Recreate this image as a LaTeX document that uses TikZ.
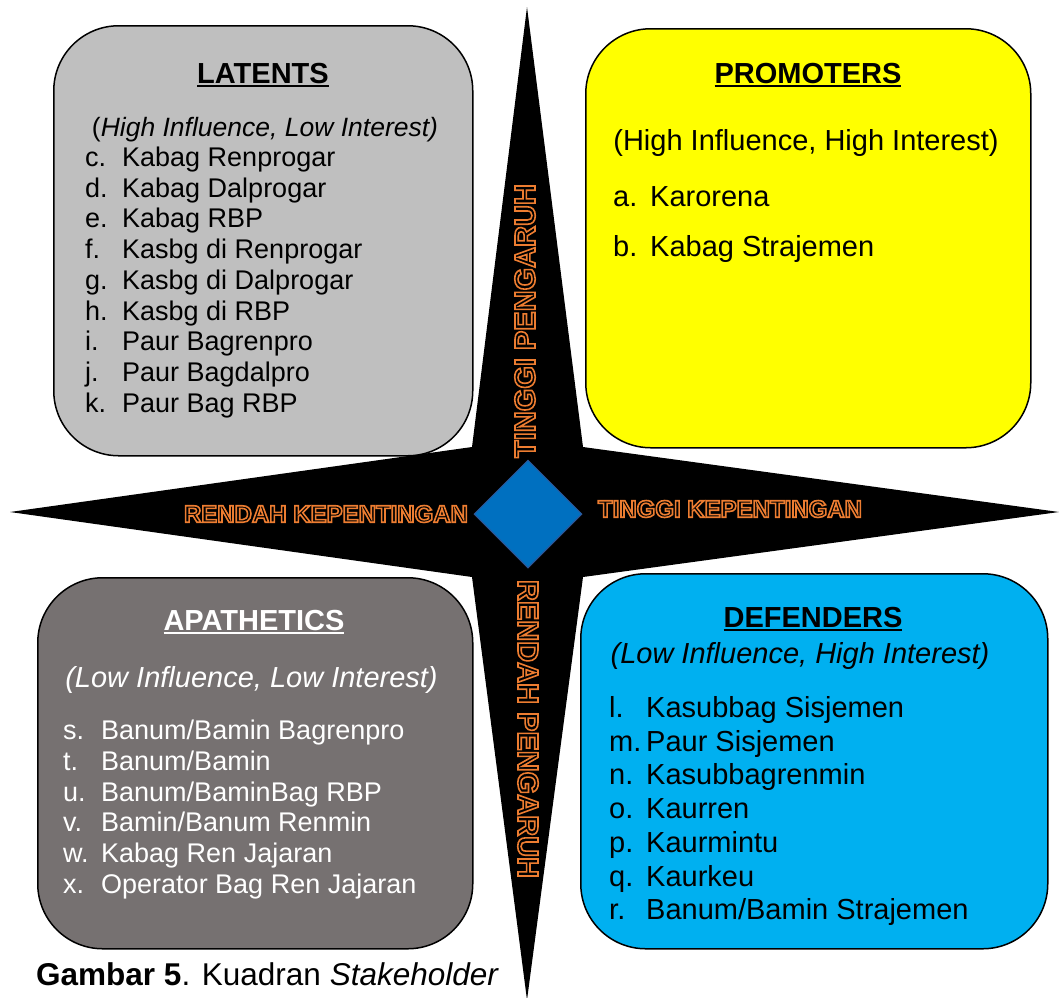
\documentclass[tikz,border=0pt]{standalone}
\usepackage{fontspec}
\setmainfont{Liberation Sans}
\usetikzlibrary{shapes.geometric}

\definecolor{latgray}{HTML}{BFBFBF}
\definecolor{apagray}{HTML}{767171}
\definecolor{proyellow}{HTML}{FFFF00}
\definecolor{defblue}{HTML}{00B0F0}
\definecolor{midblue}{HTML}{0070C0}
\definecolor{midedge}{HTML}{2F5597}

% hollow orange letters: fill black, stroke orange
\newcommand\hollow[1]{\special{pdf:literal direct 2 Tr 1.6 w 0.929 0.490 0.192 RG}#1\special{pdf:literal direct 0 Tr 0 G}}
\newcommand\ttlline[1]{\setbox0=\hbox{#1}\leavevmode\rlap{\copy0}\rule[-3.5pt]{\wd0}{2pt}}

\tikzset{
	quadbox/.style={draw=black, line width=1.5pt, rounded corners=65pt, anchor=north west, inner sep=0pt},
	ttl/.style={anchor=base, font=\fontsize{29}{34}\selectfont\bfseries},
	subttl/.style={anchor=base, font=\fontsize{29}{34}\selectfont},
	itm/.style={anchor=base west, inner sep=0pt, font=\fontsize{27}{30}\selectfont},
	bigitm/.style={anchor=base west, inner sep=0pt, font=\fontsize{29}{34}\selectfont},
	axislbl/.style={font=\fontsize{24}{28}\selectfont\bfseries, inner sep=0pt, text=black}
}

\begin{document}
\begin{tikzpicture}[x=1pt, y=-1pt]
		\useasboundingbox (0,0) rectangle (1059,997);
		% four pointed star behind the quadrants
		\fill[black] (527,7) -- (583,447) -- (1059,512) -- (583,577) -- (527,1000)
			-- (472,577) -- (10,512) -- (472,447) -- cycle;
		
		% the four quadrants
		\node[quadbox, fill=latgray, minimum width=419pt, minimum height=430pt] (lat) at (53,25) {};
		\node[quadbox, fill=proyellow, minimum width=445pt, minimum height=419pt] (pro) at (585,28) {};
		\node[quadbox, fill=apagray, minimum width=435pt, minimum height=371pt] (apa) at (37,577) {};
		\node[quadbox, fill=defblue, minimum width=467pt, minimum height=375pt] (def) at (580,573) {};
		
		\node[diamond, aspect=1, fill=midblue, draw=midedge, line width=1pt, inner sep=0pt,
			minimum width=108pt, minimum height=108pt] (ctr) at (528,514) {};
		
		% LATENTS
		\node[ttl] (latttl) at (263,83.5) {\ttlline{LATENTS}};
		\node[subttl, font=\fontsize{26.5}{30}\selectfont] (latsub) at (265,136.5) {(\textit{High Influence, Low Interest)}};
		\foreach \l/\t [count=\i from 0] in {c/Kabag Renprogar, d/Kabag Dalprogar, e/Kabag RBP,
			f/Kasbg di Renprogar, g/Kasbg di Dalprogar, h/Kasbg di RBP, i/Paur Bagrenpro,
			j/Paur Bagdalpro, k/Paur Bag RBP}
		{
			\node[itm] (latl\i) at (85,166.5+30.7*\i) {\l.};
			\node[itm] (latt\i) at (122,166.5+30.7*\i) {\t};
		}
		
		% PROMOTERS
		\node[ttl] (prottl) at (808,83.5) {\ttlline{PROMOTERS}};
		\node[subttl] (prosub) at (806,150.5) {(High Influence, High Interest)};
		\foreach \l/\t [count=\i from 0] in {a/Karorena, b/Kabag Strajemen}
		{
			\node[bigitm] (prol\i) at (613,206.5+50*\i) {\l.};
			\node[bigitm] (prot\i) at (650,206.5+50*\i) {\t};
		}
		
		% APATHETICS
		\node[ttl, text=white] (apattl) at (254,630.5) {\ttlline{APATHETICS}};
		\node[subttl, text=white] (apasub) at (251.5,687.5) {\textit{(Low Influence, Low Interest)}};
		\foreach \l/\t [count=\i from 0] in {s/{Banum/Bamin Bagrenpro}, t/{Banum/Bamin},
			u/{Banum/BaminBag RBP}, v/{Bamin/Banum Renmin}, w/Kabag Ren Jajaran,
			x/Operator Bag Ren Jajaran}
		{
			\node[itm, text=white] (apal\i) at (63,739.5+30.8*\i) {\l.};
			\node[itm, text=white] (apat\i) at (101,739.5+30.8*\i) {\t};
		}
		
		% DEFENDERS
		\node[ttl] (defttl) at (813,627.5) {\ttlline{DEFENDERS}};
		\node[subttl] (defsub) at (800,663.5) {\textit{(Low Influence, High Interest)}};
		\foreach \l/\t [count=\i from 0] in {l/Kasubbag Sisjemen, m/Paur Sisjemen,
			n/Kasubbagrenmin, o/Kaurren, p/Kaurmintu, q/Kaurkeu, r/{Banum/Bamin Strajemen}}
		{
			\node[bigitm] (defl\i) at (609,717.5+33.7*\i) {\l.};
			\node[bigitm] (deft\i) at (646,717.5+33.7*\i) {\t};
		}
		
		% axis labels on the star
		\node[axislbl] (lowint) at (326,514) {\hollow{RENDAH KEPENTINGAN}};
		\node[axislbl] (highint) at (730,509) {\hollow{TINGGI KEPENTINGAN}};
		\node[axislbl, font=\fontsize{29}{34}\selectfont\bfseries, rotate=90] (highinf) at (525,321) {\hollow{TINGGI PENGARUH}};
		\node[axislbl, font=\fontsize{29}{34}\selectfont\bfseries, rotate=-90] (lowinf) at (528,729) {\hollow{RENDAH PENGARUH}};
		
		\node[anchor=base west, inner sep=0pt, font=\fontsize{31.5}{34}\selectfont] (cap) at (36,985)
			{\textbf{Gambar 5}. Kuadran \textit{Stakeholder}};
\end{tikzpicture}
\end{document}
